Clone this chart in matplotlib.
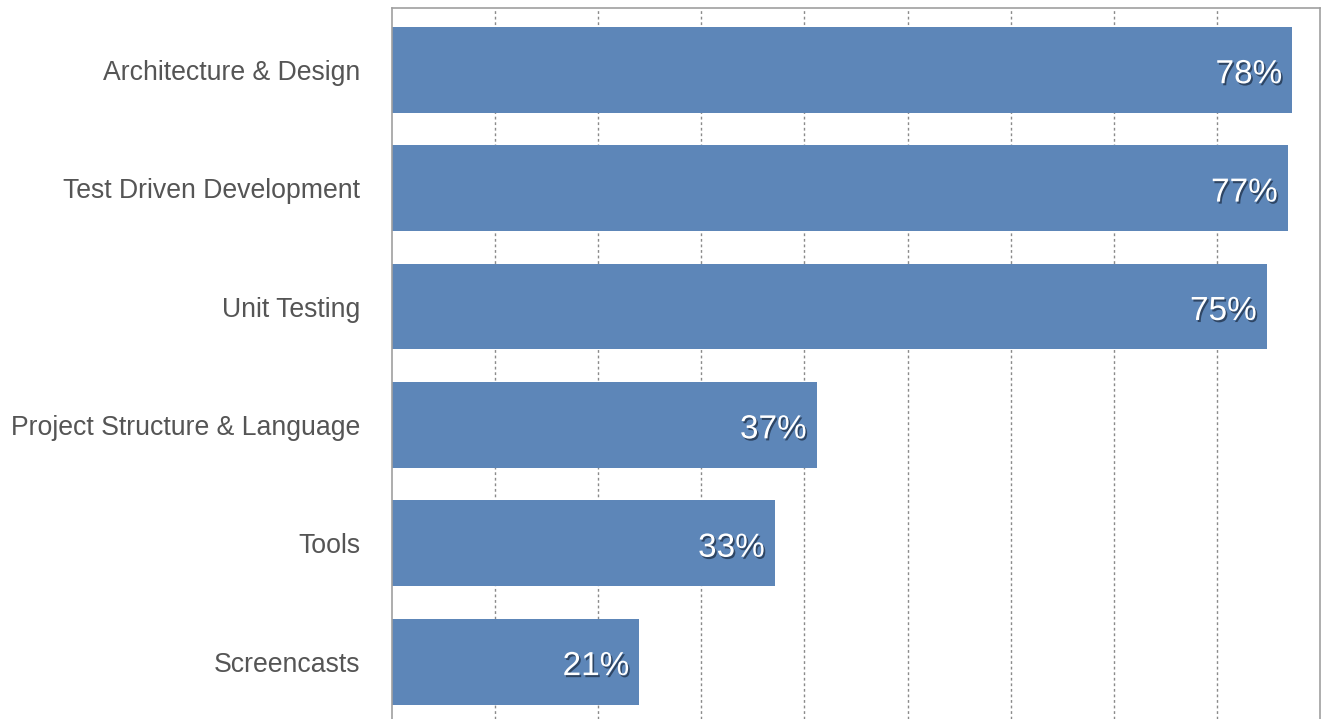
import numpy as np
import matplotlib
matplotlib.use("Agg")
import matplotlib.pyplot as plt
import matplotlib.patheffects as pe

# data (bar lengths) and the printed labels
topics = ["Architecture & Design", "Test Driven Development", "Unit Testing",
          "Project Structure & Language", "Tools", "Screencasts"]
values = [77.6, 77.2, 75.4, 36.6, 33.0, 21.3]
value_labels = ["78%", "77%", "75%", "37%", "33%", "21%"]

plt.rcParams['font.family'] = ['Liberation Sans', 'DejaVu Sans']

W, H = 1321, 719
fig = plt.figure(figsize=(W / 100, H / 100), dpi=100)
ax = fig.add_axes([392 / W, 0, (1320 - 392) / W, (H - 8) / H])

y = np.arange(len(topics))
ax.barh(y, values, height=0.724, color="#5d86b8", zorder=2)

xmax = 80
ax.set_xlim(0, xmax)
ax.set_ylim(5.484, -0.522)
ax.set_xticks(np.arange(1, 9) * xmax / 9)
ax.xaxis.grid(True, linestyle=(0, (2, 2)), color="#8a8a8a", linewidth=1, zorder=0)
ax.tick_params(axis="x", length=0, labelbottom=False)

ax.set_yticks(y)
ax.set_yticklabels(topics, fontsize=19.2, color="#555555")
ax.tick_params(axis="y", length=0, pad=23)

for s in ["top", "right", "left"]:
    ax.spines[s].set_color("#a0a0a0")
    ax.spines[s].set_linewidth(1.2)
ax.spines["bottom"].set_visible(False)

for yi, v, lab in zip(y, values, value_labels):
    t = ax.annotate(lab, (v, yi), xytext=(-7, -1), textcoords="offset points",
                    ha="right", va="center_baseline", fontsize=24, color="white", zorder=3)
    t.set_path_effects([pe.withSimplePatchShadow(offset=(1.2, -1.5),
                                                 shadow_rgbFace="#1a2a40", alpha=0.7)])

fig.savefig("out.png", dpi=100)
